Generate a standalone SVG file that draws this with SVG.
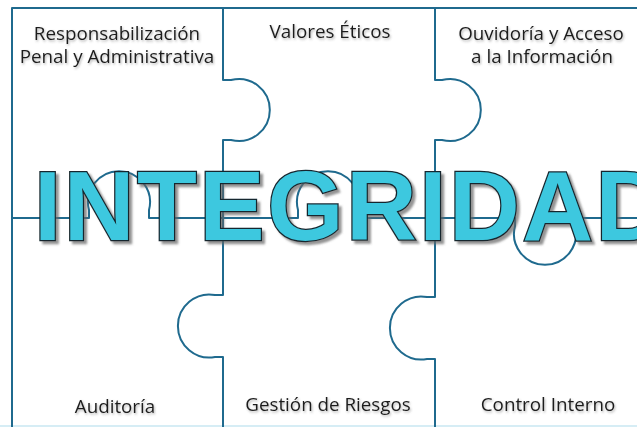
<svg xmlns="http://www.w3.org/2000/svg" width="637" height="427" viewBox="0 0 637 427">
<defs>
<filter id="sh" x="-10%" y="-30%" width="120%" height="160%">
<feDropShadow dx="1" dy="1.5" stdDeviation="0.8" flood-color="#555" flood-opacity="0.45"/>
</filter>
<filter id="bigsh" x="-5%" y="-20%" width="110%" height="140%">
<feDropShadow dx="3" dy="3" stdDeviation="1.2" flood-color="#666" flood-opacity="0.7"/>
</filter>
</defs>
<style>
.cut{fill:none;stroke:#1f6a8e;stroke-width:2;stroke-linejoin:round}
.lbl{font-family:"Open Sans","Liberation Sans",sans-serif;font-size:18.8px;fill:#1e1e1e;text-anchor:middle;filter:url(#sh)}
.big{font-family:"Liberation Sans",Arial,sans-serif;font-weight:bold;font-size:98px;letter-spacing:2.5px;fill:#3ec8df;stroke:#17262e;stroke-width:2.5;paint-order:stroke;filter:url(#bigsh)}
</style>
<rect width="637" height="427" fill="#ffffff"/>
<g id="connectors">
<line x1="0" y1="426" x2="637" y2="426" stroke="#d6edf5" stroke-width="2"/>
<path class="cut" d="M12 427 V8 H637"/>
<path class="cut" d="M223 8 V80 H231 A31 31 0 1 1 231 140 H223 V295 H215 A31.5 31.5 0 1 0 215 357 H223 V427"/>
<path class="cut" d="M435 8 V80 H442 A31 31 0 1 1 442 140 H435 V297 H427 A31.5 31.5 0 1 0 427 359 H435 V427"/>
<path class="cut" d="M12 218 H89 V210 A31 31 0 1 1 149 210 V218 H298 V210 A31 31 0 1 1 358 210 V218 H515 V226 A31 31 0 1 0 575 226 V218 H637"/>
</g>
<g id="p1"><text class="lbl" x="117" y="40">Responsabilización</text><text class="lbl" x="117" y="63">Penal y Administrativa</text></g>
<g id="p2"><text class="lbl" x="330" y="38">Valores Éticos</text></g>
<g id="p3"><text class="lbl" x="541" y="40">Ouvidoría y Acceso</text><text class="lbl" x="542" y="63">a la Información</text></g>
<g id="p4"><text class="lbl" x="115" y="413">Auditoría</text></g>
<g id="p5"><text class="lbl" x="328" y="411">Gestión de Riesgos</text></g>
<g id="p6"><text class="lbl" x="548" y="411">Control Interno</text></g>
<g id="title"><text class="big" x="34" y="240">INTEGRIDAD</text></g>
</svg>
